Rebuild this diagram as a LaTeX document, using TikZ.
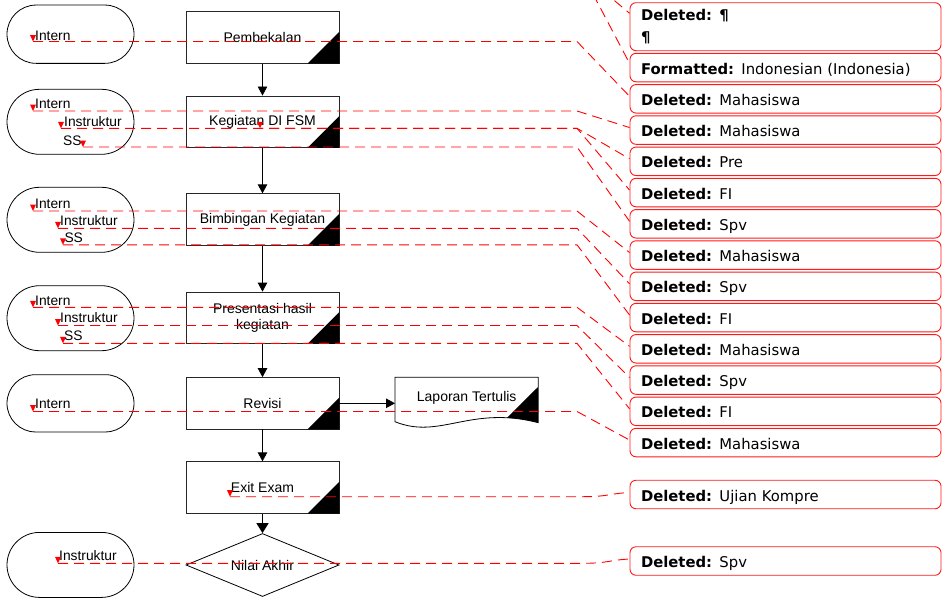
\documentclass[tikz,border=0pt]{standalone}
\usepackage{fontspec}
\setmainfont{Liberation Sans}
\newfontfamily\balfont{DejaVu Sans}
\usetikzlibrary{arrows.meta,shapes.geometric,shapes.misc}

\begin{document}
\begin{tikzpicture}[x=1pt,y=-1pt,
        every node/.style={font=\fontsize{14}{16}\selectfont},
        proc/.style={draw=black!85, line width=0.8pt, fill=white, minimum width=153pt, minimum height=51.5pt, inner sep=0pt, align=center},
        term/.style={rounded rectangle, draw, line width=0.8pt, minimum width=127pt, minimum height=65pt, inner sep=0pt},
        who/.style={anchor=base west, inner sep=0pt, font=\fontsize{13.8}{16}\selectfont},
        flow/.style={line width=0.8pt, -{Triangle[length=9pt,width=9.5pt]}},
        leader/.style={red, line width=0.9pt, dash pattern=on 10pt off 6pt},
        balloon/.style={draw=red!90, line width=0.9pt, fill=white, rounded corners=6pt, minimum width=311pt, minimum height=28.5pt, inner sep=0pt,
                text width=289pt, align=left, font=\balfont\fontsize{14.8}{22}\selectfont},
        bal/.style={balloon, text height=13pt, text depth=0pt}
    ]
    \useasboundingbox (0,0) rectangle (947,597);
    \clip (0,0) rectangle (947,597);

    \node[term, minimum height=58.3pt] (t1) at (70.5,34.2) {};
    \node[term] (t2) at (70.5,121.8) {};
    \node[term] (t3) at (70.5,219.8) {};
    \node[term] (t4) at (70.5,318.2) {};
    \node[term, minimum height=57.3pt] (t5) at (70.5,403.3) {};
    \node[term] (t6) at (70.5,564.9) {};

    \node[who] (t1a) at (35,40.8) {Intern};
    \node[who] (t2a) at (35,108.5) {Intern};
    \node[who] (t2b) at (64,126.5) {Instruktur};
    \node[who] (t2c) at (63,145) {SS};
    \node[who] (t3a) at (35,208.3) {Intern};
    \node[who] (t3b) at (60,225.3) {Instruktur};
    \node[who] (t3c) at (64.3,242.3) {SS};
    \node[who] (t4a) at (35,305) {Intern};
    \node[who] (t4b) at (60,322.7) {Instruktur};
    \node[who] (t4c) at (64,340) {SS};
    \node[who] (t5a) at (35,408.3) {Intern};
    \node[who] (t6a) at (59,560.7) {Instruktur};

    \node[proc] (pemb) at (262.5,37.5) {Pembekalan};
    \node[proc] (keg) at (262.5,121.7) {Kegiatan DI FSM};
    \node[proc] (bimb) at (262.5,219.5) {Bimbingan Kegiatan};
    \node[proc] (pres) at (262.5,317.8) {Presentasi hasil\\kegiatan};
    \node[proc] (rev) at (262.5,403.3) {Revisi};
    \node[proc] (exit) at (262.5,487.5) {Exit Exam};
    \foreach \n in {pemb,keg,bimb,pres,rev,exit} {
            \fill (\n.south east) -- ([yshift=32pt]\n.south east) -- ([xshift=-32pt]\n.south east) -- cycle;
        }
    \node[diamond, draw, line width=0.8pt, fill=white, minimum width=153pt, minimum height=63pt, inner sep=0pt, shape aspect=2.4] (nilai) at (262.5,565) {Nilai Akhir};

    \draw[line width=0.8pt, fill=white] (395,421.7) -- (395,377.3) -- (538.3,377.3) -- (538.3,422.7) .. controls (470,405) and (440,440) .. cycle;
    \begin{scope}
        \clip (395,421.7) -- (395,377.3) -- (538.3,377.3) -- (538.3,422.7) .. controls (470,405) and (440,440) .. cycle;
        \fill (538.3,386.7) -- (538.3,440) -- (484.6,440) -- cycle;
    \end{scope}
    \node[anchor=base, minimum width=143pt, inner sep=0pt] (lap) at (466.7,401.7) {Laporan Tertulis};

    \draw[flow] (pemb) -- (keg);
    \draw[flow] (keg) -- (bimb);
    \draw[flow] (bimb) -- (pres);
    \draw[flow] (pres) -- (rev);
    \draw[flow] (rev) -- (exit);
    \draw[flow] (rev.east) -- (rev.east -| lap.west);
    \draw[flow, line width=1.6pt, -{Triangle[length=10pt,width=12pt]}] (exit) -- (nilai);

    \node[balloon, minimum height=48pt] (b0) at (785.5,26.7) {\textbf{Deleted: ¶}\\\textbf{¶}};
    \foreach \i/\w/\t in {1/Formatted/{Indonesian (Indonesia)},2/Deleted/Mahasiswa,3/Deleted/Mahasiswa,4/Deleted/Pre,
            5/Deleted/FI,6/Deleted/Spv,7/Deleted/Mahasiswa,8/Deleted/Spv,9/Deleted/FI,10/Deleted/Mahasiswa,
            11/Deleted/Spv,12/Deleted/FI,13/Deleted/Mahasiswa} {
            \node[bal] (b\i) at (785.5,{67.55+(\i-1)*31.25}) {\textbf{\w:} \t};
        }
    \node[bal] (b14) at (785.5,494.5) {\textbf{Deleted:} Ujian Kompre};
    \node[bal] (b15) at (785.5,561) {\textbf{Deleted:} Spv};

    \coordinate (bend) at (577,0);
    \coordinate (bend2) at (583,0);
    \coordinate (o1) at (590,-20);
    \coordinate (o2) at (585.6,-20);
    \coordinate (m1) at (33,41.5);
    \coordinate (m2) at (33,111);
    \coordinate (m3) at (61,128.3);
    \coordinate (m4) at (260,128.3);
    \coordinate (m5) at (83,147);
    \coordinate (m6) at (33,211);
    \coordinate (m7) at (58,228.3);
    \coordinate (m8) at (63,244.8);
    \coordinate (m9) at (33,307.3);
    \coordinate (m10) at (58,325.5);
    \coordinate (m11) at (63,343.3);
    \coordinate (m12) at (33,411.5);
    \coordinate (m13) at (230,496.7);
    \coordinate (m14) at (58,563.3);

    \draw[leader] (o1) -- ([yshift=13.4pt]b0.west);
    \draw[leader] (o2) -- ([yshift=4.2pt]b1.west);
    \foreach \m/\b in {1/2,2/3,3/5,5/6,6/7,7/8,8/9,9/10,10/11,11/12,12/13} {
            \draw[leader] (m\m) -- (m\m -| bend) -- ([yshift=2.5pt]b\b.west);
        }
    \draw[leader, dash phase=7pt] (m4) -- (m4 -| bend) -- ([yshift=2.5pt]b4.west);
    \draw[leader] (m13) -- (m13 -| bend2) .. controls +(25,0) and +(-20,1) .. ([yshift=2pt]b14.west);
    \draw[leader] (m14) -- (m14 -| bend2) .. controls +(25,0) and +(-20,1) .. ([yshift=2pt]b15.west);

    \foreach \m in {1,...,14} {
            \fill[red] (m\m) -- ++(-3,-6.5) -- ++(6,0) -- cycle;
        }
\end{tikzpicture}
\end{document}
